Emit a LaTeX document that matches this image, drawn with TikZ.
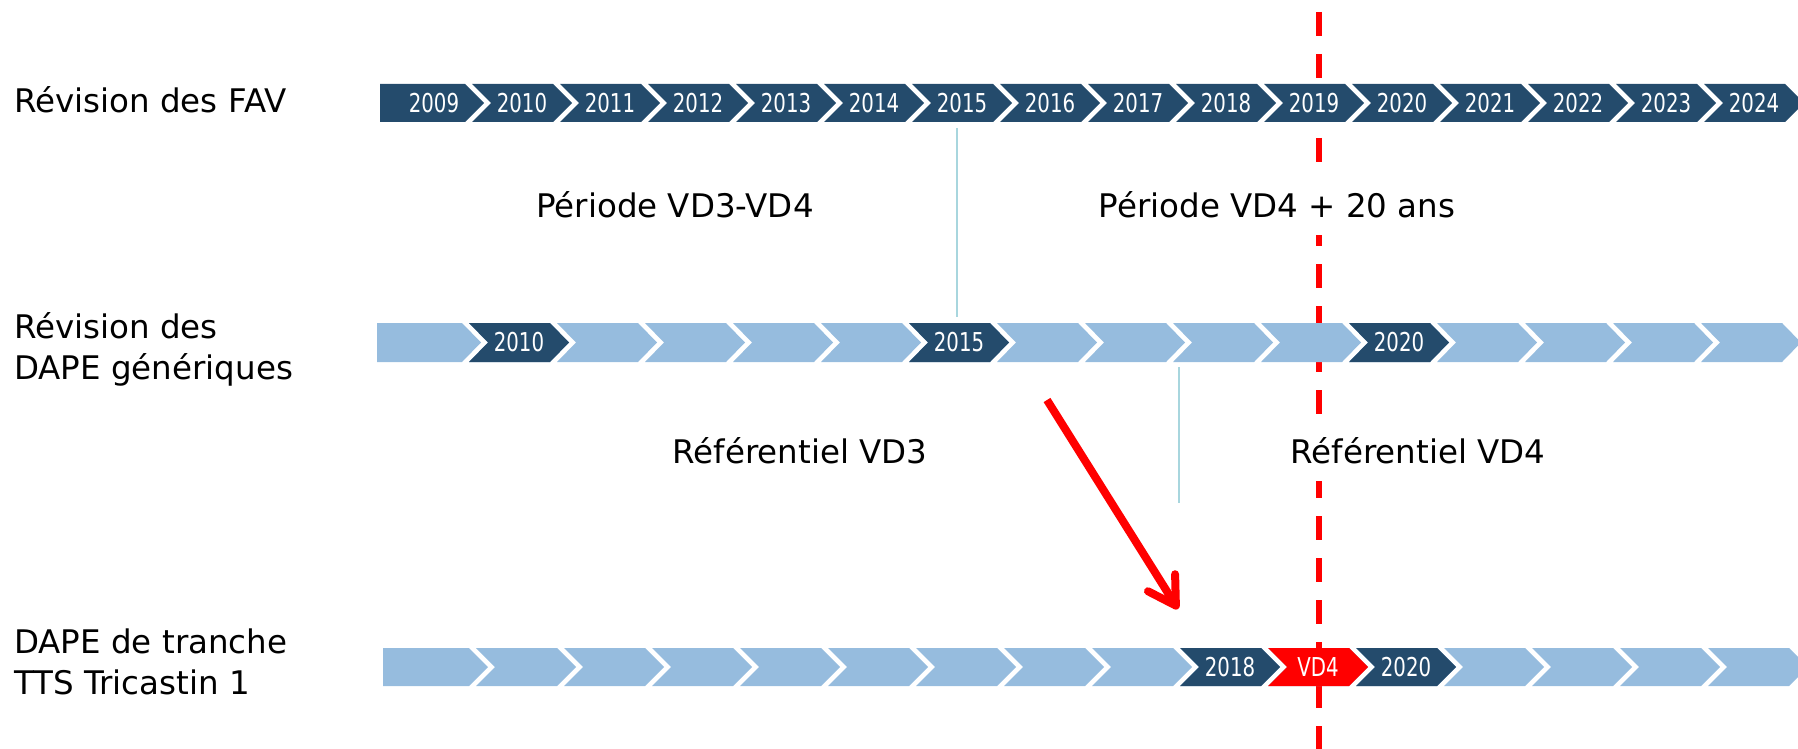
\documentclass[tikz,border=0pt]{standalone}
\usepackage{fontspec}
\setmainfont{DejaVu Sans}
\newfontfamily\yrfont[FakeStretch=0.76]{DejaVu Sans}
\usetikzlibrary{arrows.meta,positioning}
\definecolor{favdark}{RGB}{36,75,108}
\definecolor{favlight}{RGB}{150,188,222}
\definecolor{vdred}{RGB}{255,0,0}
\definecolor{septeal}{RGB}{168,214,222}
\tikzset{
  yrlbl/.style={inner sep=0pt, text=white, font=\yrfont\fontsize{26}{26}\selectfont},
  rowlbl/.style={inner sep=0pt, anchor=base west, align=left, font=\fontsize{32.5}{40.5}\selectfont},
  perlbl/.style={inner sep=0pt, anchor=base, fill=white, text height=44pt, text depth=18pt, font=\fontsize{32.5}{40.5}\selectfont},
  sepline/.style={septeal, line width=2pt},
  vdline/.style={vdred, line width=5.5pt, dash pattern=on 24pt off 18pt},
  redarr/.style={vdred, line width=8pt, -{Straight Barb[length=27pt,width=32pt,round]}},
}

\begin{document}
\begin{tikzpicture}[x=1pt,y=-1pt]
\useasboundingbox (0,0) rectangle (1798,749);
\clip (0,0) rectangle (1798,749);
% red dashed line, behind the rows
\coordinate (vtop) at (1319,12);
\coordinate (vbot) at (1319,760);
\draw[vdline] (vtop) -- (vbot);

% row 1: FAV
\foreach \k in {0,...,15}{
  \pgfmathtruncatemacro\yr{2009+\k}
  \pgfmathsetmacro\lx{384+88*\k}
  \pgfmathsetmacro\ll{\k==0 ? 380 : \lx}
  \pgfmathsetmacro\nd{\k==0 ? 0 : 19}
  \fill[favdark] (\ll,84) -- (\lx+81,84) -- (\lx+100,103) -- (\lx+81,122) -- (\ll,122) -- (\ll+\nd,103) -- cycle;
  \node[yrlbl] (f\yr) at (\lx+50,103) {\yr};
}

% row 2: DAPE generiques
\foreach \k in {0,...,15}{
  \pgfmathsetmacro\lx{381+88*\k}
  \pgfmathsetmacro\ll{\k==0 ? 377 : \lx}
  \pgfmathsetmacro\nd{\k==0 ? 0 : 19}
  \fill[favlight] (\ll,323) -- (\lx+81,323) -- (\lx+100,342.5) -- (\lx+81,362) -- (\ll,362) -- (\ll+\nd,342.5) -- cycle;
}
\foreach \k/\yr in {1/2010,6/2015,11/2020}{
  \pgfmathsetmacro\lx{381+88*\k}
  \fill[favdark] (\lx,323) -- ++(81,0) -- ++(19,19.5) -- ++(-19,19.5) -- ++(-81,0) -- ++(19,-19.5) -- cycle;
  \node[yrlbl] (g\yr) at (\lx+50,342.5) {\yr};
}

% row 3: DAPE de tranche
\foreach \k in {0,...,15}{
  \pgfmathsetmacro\lx{388+88*\k}
  \pgfmathsetmacro\ll{\k==0 ? 383 : \lx}
  \pgfmathsetmacro\nd{\k==0 ? 0 : 19}
  \fill[favlight] (\ll,648) -- (\lx+81,648) -- (\lx+100,667) -- (\lx+81,686) -- (\ll,686) -- (\ll+\nd,667) -- cycle;
}
\foreach \k/\nm/\txt/\col in {9/t2018/2018/favdark,10/tvd4/VD4/vdred,11/t2020/2020/favdark}{
  \pgfmathsetmacro\lx{388+88*\k}
  \fill[\col] (\lx,648) -- ++(81,0) -- ++(19,19) -- ++(-19,19) -- ++(-81,0) -- ++(19,-19) -- cycle;
  \node[yrlbl] (\nm) at (\lx+50,667) {\txt};
}

% separators
\coordinate (sepa) at (957,128);
\coordinate (sepb) at (957,317);
\coordinate (sepc) at (1179,367);
\coordinate (sepd) at (1179,503);
\draw[sepline] (sepa) -- (sepb);
\draw[sepline] (sepc) -- (sepd);

% labels
\node[rowlbl] (lfav) at (14,113) {Révision des FAV};
\node[rowlbl] (lgen) at (14,379) {Révision des\\DAPE génériques};
\node[rowlbl] (ltts) at (14,694) {DAPE de tranche\\TTS Tricastin 1};

\node[perlbl] (pvd3) at (675,217) {Période VD3-VD4};
\node[perlbl] (pvd4) at (1277,217) {Période VD4 + 20 ans};
\node[perlbl] (rvd3) at (800,463) {Référentiel VD3};
\node[perlbl] (rvd4) at (1418,463) {Référentiel VD4};

% arrow towards the 2018 box
\coordinate (arrs) at (1047,400);
\coordinate (arre) at (1178,609);
\draw[redarr] (arrs) -- (arre);
\end{tikzpicture}
\end{document}
